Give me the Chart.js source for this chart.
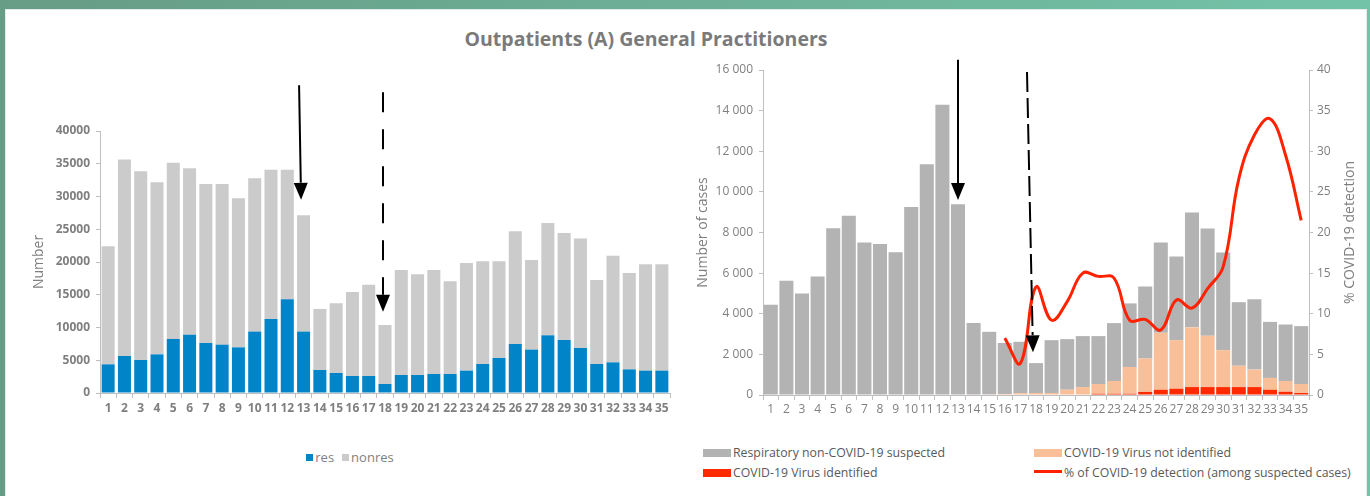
<!DOCTYPE html>
<html>
<head>
<meta charset="utf-8">
<script src="https://cdn.jsdelivr.net/npm/chart.js@4"></script>
<style>
  body { margin: 0; width: 1370px; height: 496px; overflow: hidden; position: relative;
         background: linear-gradient(90deg, #679c86, #73c3a8); font-family: "Open Sans", sans-serif; }
  #panel { position: absolute; left: 6px; top: 10px; width: 1360px; height: 486px; background: #fff;
           box-shadow: 0 0 0 1px #e3ece8; }
  #title { position: absolute; left: 6px; width: 1280px; top: 25px; text-align: center;
           font-weight: bold; font-size: 19.5px; color: #7a7a7a; }
  .wrap { position: absolute; }
  #leftWrap { left: 20px; top: 60px; width: 660px; height: 370px; }
  #rightWrap { left: 690px; top: 50px; width: 675px; height: 380px; }
  #leftLegend { position: absolute; left: 200px; width: 300px; top: 448px; text-align: center;
                font-size: 13px; color: #7f7f7f; }
  #leftLegend span.item { margin: 0 4px; }
  #leftLegend i { display: inline-block; width: 7px; height: 7px; margin-right: 2px; vertical-align: 1px; }
  #rightLegend { position: absolute; left: 703px; top: 444px; width: 660px; font-size: 12.3px; color: #595959;
                 display: grid; grid-template-columns: 331px 329px; row-gap: 2px; }
  #rightLegend div { height: 18px; line-height: 18px; white-space: nowrap; }
  #rightLegend i { display: inline-block; width: 28px; height: 8px; margin-right: 2px; vertical-align: 0px; }
  #rightLegend i.line { height: 3px; vertical-align: 4px; }
</style>
</head>
<body>
<div id="panel"></div>
<div id="title">Outpatients (A) General Practitioners</div>
<div class="wrap" id="leftWrap"><canvas id="leftChart"></canvas></div>
<div class="wrap" id="rightWrap"><canvas id="rightChart"></canvas></div>
<div id="leftLegend"></div>
<div id="rightLegend"></div>

<script>
// 주차 라벨
const weeks = ["1","2","3","4","5","6","7","8","9","10","11","12","13","14","15","16","17","18",
  "19","20","21","22","23","24","25","26","27","28","29","30","31","32","33","34","35"];

// 왼쪽 차트: res / nonres
const resValues = [4380, 5650, 5040, 5900, 8250, 8900, 7630, 7380, 6970, 9370, 11300, 14300, 9370,
  3510, 3050, 2600, 2600, 1370, 2750, 2750, 2900, 2900, 3410, 4430, 5340, 7480, 6620, 8810, 8090,
  6870, 4430, 4680, 3610, 3410, 3410];
const nonresValues = [18020, 29980, 28810, 26270, 26920, 25410, 24280, 24530, 22750, 23410, 22800,
  19800, 17760, 9320, 10640, 12820, 13940, 9010, 16030, 15370, 15880, 14150, 16440, 15670, 14760,
  17210, 13690, 17150, 16340, 16700, 12830, 16290, 14710, 16240, 16240];

// 오른쪽 차트: 의심 사례
const identified = [0, 0, 0, 0, 0, 0, 0, 0, 0, 0, 0, 0, 0, 0, 0, 0, 0, 0, 0, 0, 0, 60, 60, 60, 150,
  260, 310, 390, 390, 390, 390, 390, 260, 160, 100];
const notIdentified = [0, 0, 0, 0, 0, 0, 0, 0, 0, 0, 0, 0, 0, 30, 30, 50, 90, 100, 100, 260, 390,
  480, 630, 1320, 1650, 2800, 2390, 2940, 2530, 1820, 1050, 860, 580, 530, 440];
const nonCovid = [4440, 5620, 5000, 5830, 8210, 8830, 7510, 7440, 7030, 9260, 11360, 14290, 9390,
  3510, 3080, 2510, 2530, 1470, 2600, 2490, 2510, 2360, 2850, 3130, 3540, 4450, 4120, 5650, 5280,
  4800, 3130, 3470, 2760, 2780, 2850];
const detectionPct = [null, null, null, null, null, null, null, null, null, null, null, null, null,
  null, null, 7.0, 3.9, 13.3, 9.2, 11.5, 15.0, 14.6, 14.4, 9.2, 9.3, 8.0, 11.7, 10.7, 13.1, 15.8,
  26.6, 32.0, 34.0, 29.5, 21.5];

const FONT = "'Open Sans', sans-serif";
const AXIS_COLOR = "#bfbfbf";

// 화살표 그리기 플러그인
const arrowPlugin = {
  id: "arrows",
  afterDraw(chart, args, opts) {
    const { ctx, scales } = chart;
    (opts.items || []).forEach((a) => {
      const xc = scales.x.getPixelForValue(a.index);
      const x1 = xc + a.dxTop;
      const x2 = xc + a.dxTip;
      const y1 = scales.y.getPixelForValue(a.from);
      const y2 = scales.y.getPixelForValue(a.to);
      const len = Math.hypot(x2 - x1, y2 - y1);
      const ux = (x2 - x1) / len;
      const uy = (y2 - y1) / len;
      const head = 17;
      const half = 7;
      const bx = x2 - ux * head;
      const by = y2 - uy * head;
      ctx.save();
      ctx.strokeStyle = "#000";
      ctx.fillStyle = "#000";
      ctx.lineWidth = 2;
      ctx.setLineDash(a.dash || []);
      ctx.beginPath();
      ctx.moveTo(x1, y1);
      ctx.lineTo(bx, by);
      ctx.stroke();
      ctx.setLineDash([]);
      ctx.beginPath();
      ctx.moveTo(x2, y2);
      ctx.lineTo(bx - uy * half, by + ux * half);
      ctx.lineTo(bx + uy * half, by - ux * half);
      ctx.closePath();
      ctx.fill();
      ctx.restore();
    });
  },
};

// 오른쪽 축 제목 (아래에서 위로 읽기)
const rightTitlePlugin = {
  id: "rightTitle",
  afterDraw(chart, args, opts) {
    if (!opts.text) return;
    const { ctx, chartArea } = chart;
    ctx.save();
    ctx.translate(opts.x, (chartArea.top + chartArea.bottom) / 2);
    ctx.rotate(-Math.PI / 2);
    ctx.font = `14px ${FONT}`;
    ctx.fillStyle = "#7f7f7f";
    ctx.textAlign = "center";
    ctx.textBaseline = "middle";
    ctx.fillText(opts.text, 0, 0);
    ctx.restore();
  },
};

Chart.register(arrowPlugin, rightTitlePlugin);

function createLeftChart() {
  const ctx = document.getElementById("leftChart").getContext("2d");
  const chart = new Chart(ctx, {
    type: "bar",
    data: {
      labels: weeks,
      datasets: [
        { label: "res", data: resValues, backgroundColor: "#0284c9", barPercentage: 1, categoryPercentage: 0.8 },
        { label: "nonres", data: nonresValues, backgroundColor: "#cbcbcb", barPercentage: 1, categoryPercentage: 0.8 },
      ],
    },
    options: {
      responsive: true,
      maintainAspectRatio: false,
      animation: false,
      layout: { padding: { left: 0, right: 10, top: 71, bottom: 7 } },
      plugins: {
        legend: { display: false },
        tooltip: { enabled: false },
        arrows: {
          items: [
            { index: 12, from: 47000, to: 29500, dxTop: -4.5, dxTip: -2.5 },
            { index: 17, from: 45900, to: 12400, dxTop: -2, dxTip: -2, dash: [20, 17] },
          ],
        },
      },
      scales: {
        x: {
          stacked: true,
          grid: { drawOnChartArea: false, tickLength: 5, color: AXIS_COLOR },
          border: { color: AXIS_COLOR },
          ticks: { autoSkip: false, maxRotation: 0, padding: 3, color: "#7f7f7f",
                   font: { family: FONT, size: 12, weight: "bold" } },
          afterFit: (s) => { s.height = 30; },
        },
        y: {
          stacked: true,
          min: 0,
          max: 40000,
          grid: { drawOnChartArea: false, tickLength: 4, color: AXIS_COLOR },
          border: { color: AXIS_COLOR },
          ticks: { stepSize: 5000, padding: 6, color: "#7f7f7f", callback: (v) => String(v),
                   font: { family: FONT, size: 12, weight: "bold" } },
          title: { display: true, text: "Number", color: "#7f7f7f", padding: { top: 11, bottom: 0 },
                   font: { family: FONT, size: 14 } },
          afterFit: (s) => { s.width = 80; },
        },
      },
    },
  });
  buildLeftLegend(chart);
}

function buildLeftLegend(chart) {
  const box = document.getElementById("leftLegend");
  box.innerHTML = chart.data.datasets
    .map((ds) => `<span class="item"><i style="background:${ds.backgroundColor}"></i>${ds.label}</span>`)
    .join("");
}

function formatThousands(v) {
  if (v < 1000) return String(v);
  return `${Math.floor(v / 1000)} ${String(v % 1000).padStart(3, "0")}`;
}

function createRightChart() {
  const ctx = document.getElementById("rightChart").getContext("2d");
  const chart = new Chart(ctx, {
    type: "bar",
    data: {
      labels: weeks,
      datasets: [
        { type: "line", label: "% of COVID-19 detection (among suspected cases)", data: detectionPct,
          yAxisID: "y1", borderColor: "#ff2200", backgroundColor: "#ff2200", borderWidth: 3,
          pointRadius: 0, tension: 0.4, order: 0 },
        { label: "COVID-19 Virus identified", data: identified, backgroundColor: "#ff2a00",
          barPercentage: 1, categoryPercentage: 0.9, order: 1 },
        { label: "COVID-19 Virus not identified", data: notIdentified, backgroundColor: "#f8bf98",
          barPercentage: 1, categoryPercentage: 0.9, order: 1 },
        { label: "Respiratory non-COVID-19 suspected", data: nonCovid, backgroundColor: "#b3b3b3",
          barPercentage: 1, categoryPercentage: 0.9, order: 1 },
      ],
    },
    options: {
      responsive: true,
      maintainAspectRatio: false,
      animation: false,
      layout: { padding: { left: 0, right: 0, top: 20, bottom: 5 } },
      plugins: {
        legend: { display: false },
        tooltip: { enabled: false },
        arrows: {
          items: [
            { index: 12, from: 16500, to: 9600, dxTop: 0, dxTip: 0 },
            { index: 17, from: 15900, to: 2100, dxTop: -9, dxTip: -3, dash: [20, 6] },
          ],
        },
        rightTitle: { text: "% COVID-19 detection", x: 660 },
      },
      scales: {
        x: {
          stacked: true,
          grid: { drawOnChartArea: false, tickLength: 5, color: AXIS_COLOR },
          border: { color: AXIS_COLOR },
          ticks: { autoSkip: false, maxRotation: 0, padding: 2, color: "#7f7f7f",
                   font: { family: FONT, size: 12 } },
          afterFit: (s) => { s.height = 30; },
        },
        y: {
          stacked: true,
          min: 0,
          max: 16000,
          grid: { drawOnChartArea: false, tickLength: 4, color: AXIS_COLOR },
          border: { color: AXIS_COLOR },
          ticks: { stepSize: 2000, padding: 6, color: "#7f7f7f", callback: formatThousands,
                   font: { family: FONT, size: 12 } },
          title: { display: true, text: "Number of cases", color: "#7f7f7f", padding: { top: 5, bottom: 0 },
                   font: { family: FONT, size: 14 } },
          afterFit: (s) => { s.width = 73; },
        },
        y1: {
          position: "right",
          min: 0,
          max: 40,
          grid: { drawOnChartArea: false, tickLength: 4, color: AXIS_COLOR },
          border: { color: AXIS_COLOR },
          ticks: { stepSize: 5, padding: 4, color: "#7f7f7f", font: { family: FONT, size: 12 } },
          afterFit: (s) => { s.width = 56; },
        },
      },
    },
  });
  buildRightLegend(chart);
}

function buildRightLegend(chart) {
  const ds = chart.data.datasets;
  // 순서: 회색, 살구색 / 빨강, 선
  const order = [ds[3], ds[2], ds[1], ds[0]];
  document.getElementById("rightLegend").innerHTML = order
    .map((d) => {
      const cls = d.type === "line" ? "line" : "";
      return `<div><i class="${cls}" style="background:${d.backgroundColor}"></i>${d.label}</div>`;
    })
    .join("");
}

document.addEventListener("DOMContentLoaded", () => {
  createLeftChart();
  createRightChart();
});
</script>
</body>
</html>
